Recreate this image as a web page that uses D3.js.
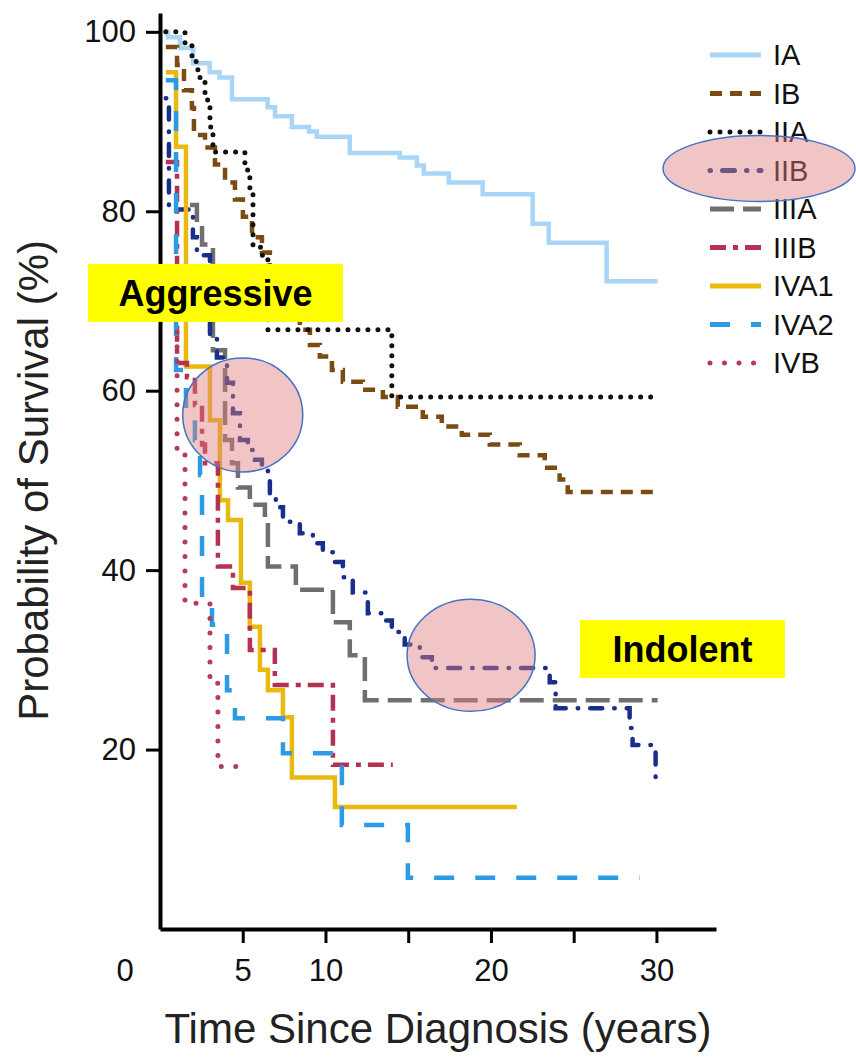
<!DOCTYPE html>
<html>
<head>
<meta charset="utf-8">
<title>Survival by stage</title>
<script src="https://cdn.jsdelivr.net/npm/d3@7"></script>
<style>
  body { margin: 0; background: #fff; }
  text { font-family: "Liberation Sans", Arial, sans-serif; }
  .axis path, .axis line { stroke: #000; }
  .axis text { fill: #111; }
</style>
</head>
<body>
<div class="container"></div>
<script>

var stages = ['IA', 'IB', 'IIA', 'IIB', 'IIIA', 'IIIB', 'IVA1', 'IVA2', 'IVB'];

// step points: [years, survival %] -- survival drops to the value at that time
var ia = [[0.35,100],[0.48,99.4],[1.21,98.2],[2.0,96.5],[3.0,95.5],[3.6,94.9],[4.35,92.5],[6.5,91.6],[6.95,90.6],
          [7.97,89.4],[9.0,88.9],[9.48,88.3],[11.47,86.5],[14.49,86.0],[15.52,85.1],[15.94,84.2],[17.45,83.2],
          [19.5,81.9],[22.52,78.6],[23.49,76.5],[26.99,72.2],[30.07,72.2]];
var ib = [[0.35,98.3],[1.03,96.3],[1.45,93.5],[1.93,91.5],[2.05,88.5],[2.72,87.1],[3.32,85.2],[3.93,83.2],
          [4.53,81.3],[5.01,79.4],[5.56,77.1],[6.16,75.4],[6.64,72.4],[7.55,69.6],[8.45,66.8],[9.06,65.1],
          [9.66,63.8],[10.39,62.3],[11.05,61.0],[12.26,60.1],[13.47,59.3],[14.37,58.2],[15.88,57.1],[17.03,56.0],
          [18.24,55.1],[19.93,54.0],[21.74,52.8],[23.25,51.4],[24.15,50.1],[24.64,48.7],[30.07,48.7]];
var iia = [[0.35,100],[1.51,98.6],[1.93,96.7],[2.29,94.9],[2.72,92.4],[3.02,89.4],[3.2,86.6],[5.13,84.6],
           [5.43,82.4],[5.62,76.0],[6.16,75.1],[6.52,66.8],[14.01,59.3],[29.95,59.3]];
var iib = [[0.35,92.6],[0.54,80.2],[1.99,77.1],[2.23,75.1],[3.02,65.9],[3.44,63.7],[4.05,60.9],[4.41,57.5],
           [4.83,54.5],[5.31,53.4],[5.74,52.3],[6.16,51.4],[6.52,50.1],[6.64,48.4],[7.0,47.0],[7.43,45.4],
           [8.45,44.1],[9.24,43.0],[9.84,42.0],[10.45,40.9],[11.05,39.2],[11.65,37.5],[12.56,35.2],[13.47,34.4],
           [14.01,33.1],[14.79,31.7],[15.7,30.3],[16.43,29.1],[23.55,27.5],[23.91,24.6],[28.38,22.4],[28.56,20.5],
           [29.95,16.3]];
var iiia = [[1.81,80.7],[2.23,78.5],[2.54,76.3],[3.2,64.5],[3.93,54.5],[4.35,51.9],[4.71,49.2],[5.43,47.3],
            [6.34,45.0],[6.52,40.4],[8.21,37.8],[10.45,34.2],[11.47,30.5],[12.38,25.5],[30.07,25.5]];
var iiib = [[0.35,85.5],[1.03,63.1],[1.63,61.5],[2.11,58.4],[2.54,54.0],[2.72,51.9],[3.5,40.4],[4.41,38.0],
            [5.43,31.1],[6.94,27.2],[10.45,18.3],[14.07,18.3]];
var iva1 = [[0.35,95.5],[0.97,87.2],[1.57,62.7],[3.02,56.7],[3.62,47.8],[4.11,45.6],[4.89,38.6],[5.43,33.7],
            [6.04,28.9],[6.52,26.6],[7.43,23.6],[7.97,16.9],[10.57,13.6],[21.56,13.6]];
var iva2 = [[0.35,94.6],[0.97,62.3],[1.57,57.9],[2.11,54.5],[2.42,50.6],[2.54,36.3],[3.14,33.9],[4.05,26.6],
            [4.53,23.5],[7.43,19.6],[10.99,11.6],[14.98,5.7],[28.99,5.7]];
var ivb = [[0.35,70.1],[1.03,53.4],[1.51,36.3],[3.02,27.4],[3.5,18.1],[4.71,18.1]];

var yTicks = [20, 40, 60, 80, 100];
var xTicks = [5, 10, 15, 20, 25, 30];
var xTickLabels = ['5', '10', '', '20', '', '30'];
var notes = ['Aggressive', 'Indolent'];

var seriesByStage = {IA: ia, IB: ib, IIA: iia, IIB: iib, IIIA: iiia, IIIB: iiib, IVA1: iva1, IVA2: iva2, IVB: ivb};

// styles
var colors = {IA:'#a9d5f6', IB:'#7a4b12', IIA:'#111111', IIB:'#1a2e8c', IIIA:'#6f6f6f',
              IIIB:'#b2324f', IVA1:'#e9b90e', IVA2:'#2d9ae6', IVB:'#b23c5a'};
var dashes = {IA:null, IB:'12,8', IIA:'0,10', IIB:'0.5,12,12,12', IIIA:'24,9',
              IIIB:'16,7,5,7', IVA1:null, IVA2:'20,21', IVB:'0,14.5'};
var caps = {IIA:'round', IIB:'round', IVB:'round'};
var drawOrder = ['IA', 'IB', 'IIA', 'IIIA', 'IIB', 'IVA1', 'IIIB', 'IVA2', 'IVB'];

var svgWidth = 856, svgHeight = 1060;

var svg = d3.select('.container')
            .append('svg')
            .attr('width', svgWidth)
            .attr('height', svgHeight);

var x = d3.scaleLinear().domain([0, 33.6]).range([160, 716]);
var y = d3.scaleLinear().domain([0, 102.1]).range([929, 13]);

var line = d3.line()
  .x(function(d) { return x(d[0]); })
  .y(function(d) { return y(d[1]); })
  .curve(d3.curveStepAfter);

// survival curves
svg.append('g')
  .attr('class', 'curves')
  .selectAll('path')
  .data(drawOrder)
  .enter().append('path')
  .attr('d', function(s) { return line(seriesByStage[s]); })
  .attr('fill', 'none')
  .attr('stroke', function(s) { return colors[s]; })
  .attr('stroke-width', function(s) { return (s == 'IIA' || s == 'IVB') ? 5 : 4.5; })
  .attr('stroke-dasharray', function(s) { return dashes[s]; })
  .attr('stroke-linecap', function(s) { return caps[s] || 'butt'; });

// axes
var yAxis = d3.axisLeft(y).tickValues(yTicks).tickSize(14).tickSizeOuter(0).tickPadding(10);
var xAxis = d3.axisBottom(x).tickValues(xTicks).tickSize(14).tickSizeOuter(0).tickPadding(16)
  .tickFormat(function(d, i) { return xTickLabels[i]; });

var gy = svg.append('g')
  .attr('class', 'axis')
  .attr('transform', 'translate(' + x(0) + ',0)')
  .call(yAxis);
gy.select('.domain').attr('stroke-width', 4);
gy.selectAll('.tick line').attr('stroke-width', 3);
gy.selectAll('.tick text').attr('font-size', 31);

var gx = svg.append('g')
  .attr('class', 'axis')
  .attr('transform', 'translate(0,' + y(0) + ')')
  .call(xAxis);
gx.select('.domain').attr('stroke-width', 4);
gx.selectAll('.tick line').attr('stroke-width', 3);
gx.selectAll('.tick text').attr('font-size', 31);

// origin label sits left of the axis corner
gx.append('text')
  .attr('x', x(0) - 35)
  .attr('y', 30)
  .attr('dy', '0.71em')
  .attr('text-anchor', 'middle')
  .attr('font-size', 31)
  .attr('fill', '#111')
  .text('0');

svg.append('text')
  .attr('x', (x(0) + 716) / 2)
  .attr('y', 1043)
  .attr('text-anchor', 'middle')
  .attr('font-size', 42)
  .attr('fill', '#222')
  .text('Time Since Diagnosis (years)');

svg.append('text')
  .attr('transform', 'translate(48,' + y(50) + ') rotate(-90)')
  .attr('text-anchor', 'middle')
  .attr('font-size', 42)
  .attr('fill', '#222')
  .text('Probability of Survival (%)');

// legend
var legend = svg.append('g').attr('transform', 'translate(710,55)');
var rows = legend.selectAll('g')
  .data(stages)
  .enter().append('g')
  .attr('transform', function(d, i) { return 'translate(0,' + (i * 38.5) + ')'; });

rows.append('line')
  .attr('x1', 0).attr('x2', 51)
  .attr('stroke', function(s) { return colors[s]; })
  .attr('stroke-width', 5)
  .attr('stroke-dasharray', function(s) { return dashes[s]; })
  .attr('stroke-linecap', function(s) { return caps[s] || 'butt'; });

rows.append('text')
  .attr('x', 63)
  .attr('dy', '0.36em')
  .attr('font-size', 29)
  .attr('fill', '#111')
  .text(function(s) { return s; });

// yellow callouts
var boxes = [
  {t: 3.35, s: 70.9, w: 255, h: 58},
  {t: 31.57, s: 31.2, w: 205, h: 58}
];
var callout = svg.selectAll('.callout')
  .data(boxes)
  .enter().append('g')
  .attr('class', 'callout')
  .attr('transform', function(d) { return 'translate(' + x(d.t) + ',' + y(d.s) + ')'; });

callout.append('rect')
  .attr('x', function(d) { return -d.w / 2; })
  .attr('y', function(d) { return -d.h / 2; })
  .attr('width', function(d) { return d.w; })
  .attr('height', function(d) { return d.h; })
  .attr('fill', '#ffff00');

callout.append('text')
  .attr('text-anchor', 'middle')
  .attr('dy', '0.36em')
  .attr('font-size', 36)
  .attr('font-weight', 'bold')
  .attr('fill', '#000')
  .text(function(d, i) { return notes[i]; });

// pink highlight circles
var marks = [
  {cx: x(5.0), cy: y(57.3), rx: 60, ry: 57},
  {cx: x(18.8), cy: y(30.5), rx: 64, ry: 56},
  {cx: 710 + 49, cy: 55 + 3 * 38.5 - 2, rx: 96, ry: 33}
];
svg.selectAll('.hl')
  .data(marks)
  .enter().append('ellipse')
  .attr('class', 'hl')
  .attr('cx', function(d) { return d.cx; })
  .attr('cy', function(d) { return d.cy; })
  .attr('rx', function(d) { return d.rx; })
  .attr('ry', function(d) { return d.ry; })
  .attr('fill', '#e07f7f')
  .attr('fill-opacity', 0.45)
  .attr('stroke', '#4472c4')
  .attr('stroke-width', 1.5);

</script>
</body>
</html>
